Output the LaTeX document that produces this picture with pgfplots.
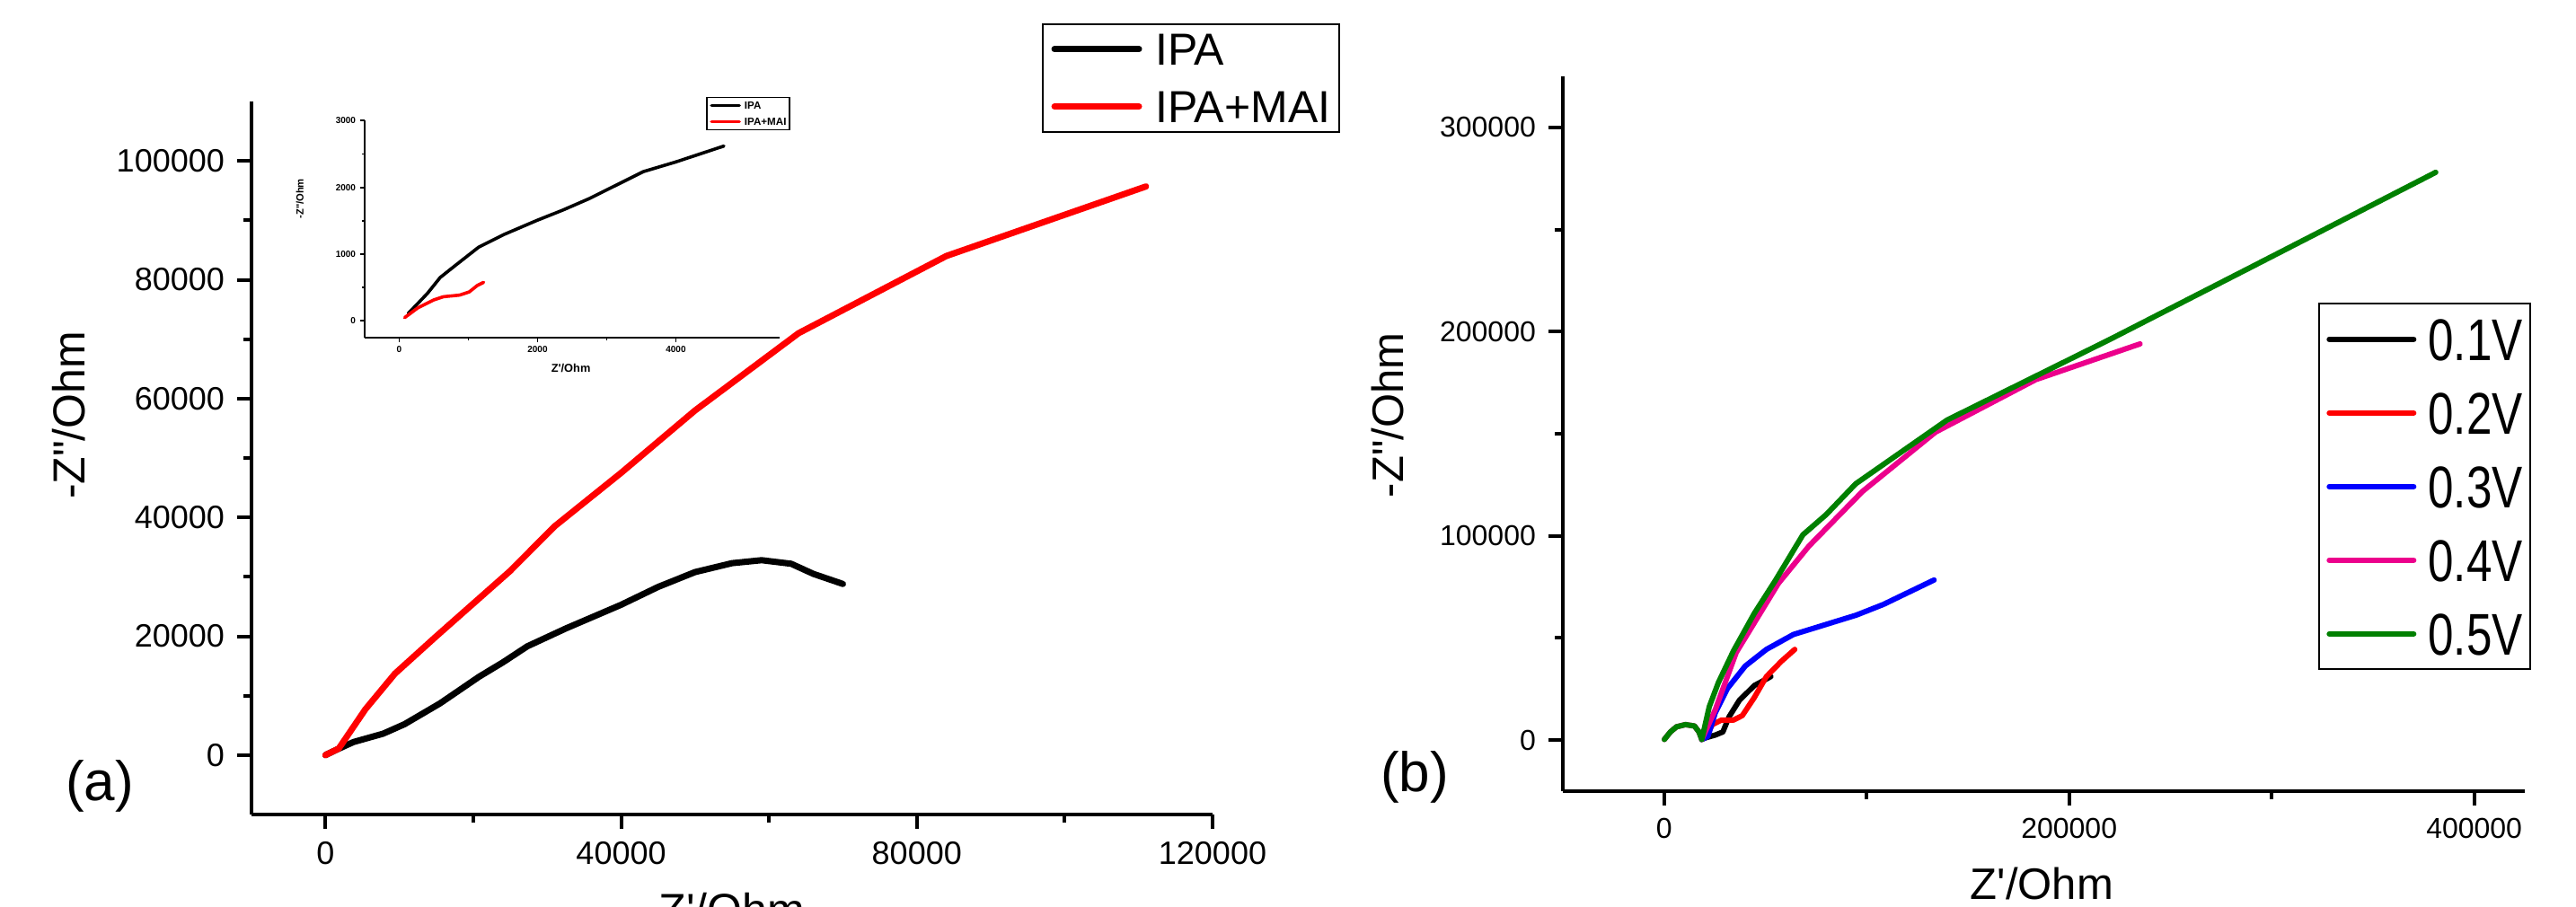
\documentclass[border=0pt]{standalone}
\usepackage{fontspec}
\newfontfamily\arial{Liberation Sans}
\newfontfamily\arialn{Liberation Sans}[FakeStretch=0.78]
\usepackage{pgfplots}
\pgfplotsset{compat=1.18}
\definecolor{vgreen}{HTML}{008000}
\pgfplotsset{
  orig/.style={
    scale only axis, clip=false,
    axis x line*=bottom, axis y line*=left,
    axis line style={line width=1pt},
    tick align=outside,
    major tick length=4pt, minor tick length=2.25pt,
    tick style={black, line width=1pt},
    minor tick num=1,
    scaled ticks=false,
    /pgf/number format/fixed,
    /pgf/number format/1000 sep={},
    /pgf/number format/assume math mode=true,
    legend cell align=left,
    every axis plot/.append style={line join=round, line cap=round},
  },
}
\begin{document}
\arial
\begin{tikzpicture}
\path[use as bounding box] (0,0) rectangle (717pt,252.25pt);

% (a) main panel
\begin{axis}[orig, at={(70pt,25.5pt)}, anchor=south west,
  width=267.5pt, height=198.5pt,
  xmin=-10000, xmax=120000, ymin=-10000, ymax=110000,
  xtick={0,40000,80000,120000}, ytick={0,20000,40000,60000,80000,100000},
  tick label style={font=\arial\fontsize{9}{10}\selectfont},
  xlabel={Z'/Ohm}, ylabel={-Z"/Ohm},
  label style={font=\arial\fontsize{12.5}{14}\selectfont},
  xlabel style={at={(axis description cs:0.5,-0.133)}, anchor=center},
  ylabel style={at={(axis description cs:-0.19,0.56)}, anchor=center},
  legend style={at={(axis description cs:0.822,1.110)}, anchor=north west,
    draw=black, line width=0.5pt, inner xsep=2.5pt, inner ysep=2.5pt,
    font=\arial\fontsize{12.5}{14}\selectfont, row sep=7pt, column sep=3.7pt,
    nodes={inner sep=0pt, text height=9pt, text depth=0pt}},
  legend image code/.code={\draw[#1] (0pt,0pt) -- (23.5pt,0pt);},
]
\addplot[black, line width=1.75pt] coordinates {
  (0,0) (1500,900) (3800,2200) (7800,3600) (10700,5200) (15500,8700) (20800,13200)
  (24000,15600) (27300,18300) (32500,21300) (40000,25300) (45000,28300) (50000,30800)
  (55000,32300) (59000,32800) (63000,32200) (66000,30500) (70000,28800)
};
\addlegendentry{IPA}
\addplot[red, line width=1.75pt] coordinates {
  (0,0) (1800,1100) (5400,7700) (9400,13700) (15000,20000) (20000,25500) (25000,31000)
  (31000,38500) (40000,47500) (50000,58000) (64000,71000) (84000,84000) (111000,95700)
};
\addlegendentry{IPA+MAI}
\node[font=\arial\fontsize{15.5}{17}\selectfont] at (axis description cs:-0.158,0.040) {(a)};
\end{axis}

% inset
\begin{axis}[orig, at={(101.5pt,158.3pt)}, anchor=south west,
  width=115.5pt, height=60.35pt,
  xmin=-500, xmax=5500, ymin=-250, ymax=3000,
  xtick={0,2000,4000}, ytick={0,1000,2000,3000},
  axis line style={line width=0.45pt}, tick style={line width=0.45pt},
  major tick length=1.3pt, minor tick length=0.8pt,
  tick label style={font=\arial\bfseries\fontsize{2.5}{3}\selectfont, inner sep=1pt},
  xlabel={Z'/Ohm}, ylabel={-Z"/Ohm},
  xlabel style={font=\arial\bfseries\fontsize{3.2}{4}\selectfont, at={(axis description cs:0.497,-0.14)}, anchor=center},
  ylabel style={font=\arial\bfseries\fontsize{2.8}{3.5}\selectfont, at={(axis description cs:-0.156,0.64)}, anchor=center},
  legend style={at={(axis description cs:0.8225,1.11)}, anchor=north west,
    draw=black, line width=0.4pt, inner xsep=0.9pt, inner ysep=1.2pt,
    font=\arial\bfseries\fontsize{2.9}{3.5}\selectfont, row sep=2.35pt, column sep=1pt,
    nodes={inner sep=0pt, text height=2.1pt, text depth=0pt}},
  legend image code/.code={\draw[#1] (0pt,0pt) -- (7.75pt,0pt);},
]
\addplot[black, line width=0.9pt] coordinates {
  (130,110) (406,409) (592,649) (825,841) (1151,1106) (1524,1298) (1991,1505)
  (2364,1659) (2737,1827) (3110,2019) (3529,2236) (3995,2380) (4695,2620)
};
\addlegendentry{IPA}
\addplot[red, line width=0.9pt] coordinates {
  (79,48) (266,192) (499,313) (639,361) (872,385) (1012,433) (1128,529) (1221,577)
};
\addlegendentry{IPA+MAI}
\end{axis}

% (b) panel
\begin{axis}[orig, at={(435pt,32pt)}, anchor=south west,
  width=267.75pt, height=199pt,
  xmin=-50000, xmax=425000, ymin=-25000, ymax=325000,
  xtick={0,200000,400000}, ytick={0,100000,200000,300000},
  tick label style={font=\arial\fontsize{8}{9}\selectfont},
  xlabel={Z'/Ohm}, ylabel={-Z"/Ohm},
  label style={font=\arial\fontsize{12.25}{14}\selectfont},
  xlabel style={at={(axis description cs:0.498,-0.129)}, anchor=center},
  ylabel style={at={(axis description cs:-0.182,0.526)}, anchor=center},
  legend style={at={(axis description cs:0.7855,0.683)}, anchor=north west,
    draw=black, line width=0.5pt, inner xsep=2pt, inner ysep=4pt,
    font=\arialn\fontsize{16.4}{19}\selectfont, row sep=8.75pt, column sep=3.3pt,
    nodes={inner sep=0pt, text height=11.75pt, text depth=0pt}},
  legend image code/.code={\draw[#1] (0pt,0pt) -- (23.5pt,0pt);},
]
\addplot[black, line width=1.5pt] coordinates {
  (18600,300) (20100,1000) (25300,2500) (29000,4000) (32000,11300) (37100,19400)
  (44500,26700) (52700,31100)
};
\addlegendentry{0.1V}
\addplot[red, line width=1.5pt] coordinates {
  (18600,300) (20900,1800) (23800,7600) (28300,9800) (34200,9800) (38600,12000)
  (44500,20800) (50500,31100) (57800,38500) (64500,44400)
};
\addlegendentry{0.2V}
\addplot[blue, line width=1.5pt] coordinates {
  (18600,300) (21600,1800) (25300,13500) (31200,25200) (40100,36300) (50500,44400)
  (63800,51700) (94900,61200) (108200,66400) (133300,78400)
};
\addlegendentry{0.3V}
\addplot[magenta, line width=1.5pt] coordinates {
  (100,300) (3100,4000) (6100,6500) (10500,7600) (15000,6900) (17200,4000) (18600,300)
  (25300,15000) (35600,42900) (56400,76700) (71500,95000) (98000,121800) (134000,150800)
  (183500,176500) (235000,194000)
};
\addlegendentry{0.4V}
\addplot[vgreen, line width=1.5pt] coordinates {
  (100,300) (3100,4000) (6100,6500) (10500,7600) (15000,6900) (17200,4000) (18600,300)
  (22300,16400) (26800,28200) (34200,43600) (44500,62000) (54900,78100) (68500,100500)
  (80000,110400) (94600,125500) (139700,156700) (220300,196300) (288300,230800) (381000,278000)
};
\addlegendentry{0.5V}
\node[font=\arial\fontsize{15.5}{17}\selectfont] at (axis description cs:-0.154,0.020) {(b)};
\end{axis}
\end{tikzpicture}
\end{document}
